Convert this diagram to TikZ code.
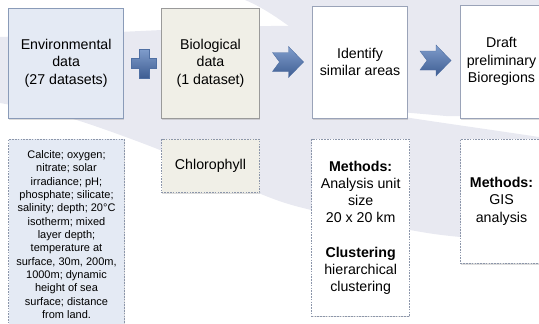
\documentclass[tikz,border=0pt]{standalone}
\usepackage{fontspec}
\setmainfont{Liberation Sans}
\usetikzlibrary{shadows}
\definecolor{bgband}{HTML}{E8E9F1}
\definecolor{envfill}{HTML}{E4EAF4}
\definecolor{envdraw}{HTML}{8A9BB8}
\definecolor{biofill}{HTML}{F0EFE7}
\definecolor{biodraw}{HTML}{9A9A9A}
\definecolor{whdraw}{HTML}{9AA3B8}
\definecolor{dashc}{HTML}{8C96AA}
\definecolor{arrtop}{HTML}{809DCC}
\definecolor{arrbot}{HTML}{3E5D92}
\definecolor{arrdraw}{HTML}{4F6FA3}
\begin{document}
\begin{tikzpicture}[x=1pt,y=-1pt,
  shd/.style={drop shadow={shadow xshift=0.6pt, shadow yshift=-1.4pt, opacity=0.28}},
  sbox/.style={rectangle, line width=0.7pt, align=center, inner sep=0pt,
    font=\fontsize{14.2}{17.5}\selectfont, shd},
  dbox/.style={rectangle, line width=0.6pt, draw=dashc, dash pattern=on 1.6pt off 1.2pt,
    align=center, inner sep=0pt, shd},
  arrfill/.style={top color=arrtop, bottom color=arrbot, draw=arrdraw, line width=0.4pt},
  notcharrow/.pic={\path[arrfill] (0,6) -- (16,6) -- (16,0) -- (31,15.5) -- (16,31)
      -- (16,25) -- (0,25) -- (7,15.5) -- cycle;}
]
\useasboundingbox (0,0) rectangle (539,324);
\clip (0,0) rectangle (539,324);
% background swooshes
\fill[bgband] (0,37) .. controls (120,33) and (250,24) .. (320,26) -- (360,110)
  .. controls (420,120) and (480,128) .. (539,137) -- (539,243)
  -- plot[smooth] coordinates {(539,243) (460,237) (410,230) (303,208) (251,190) (160,150) (70,118) (0,103)}
  -- cycle;
\fill[bgband] (245,0) .. controls (290,18) and (350,80) .. (400,112)
  -- (446,116) -- (539,116) -- (539,0) -- cycle;
% top row
\node[sbox, fill=envfill, draw=envdraw, minimum width=115.1pt, minimum height=110pt]
  (envbox) at (66.15,63.3) {Environmental\\data\\(27 datasets)};
\node[sbox, fill=biofill, draw=biodraw, minimum width=98pt, minimum height=110pt]
  (biobox) at (210.5,63.3) {Biological\\data\\(1 dataset)};
\node[sbox, fill=white, draw=whdraw, minimum width=94.5pt, minimum height=112.3pt]
  (idbox) at (360,62.15) {Identify\\similar areas};
\node[sbox, fill=white, draw=whdraw, minimum width=82pt, minimum height=113.3pt]
  (draftbox) at (501.5,61.65) {Draft\\preliminary\\Bioregions};
% bottom row
\node[dbox, fill=envfill, minimum width=115.8pt, minimum height=190.8pt,
  font=\fontsize{11}{13.33}\selectfont]
  (envdet) at (66.5,234.7) {Calcite; oxygen;\\nitrate; solar\\irradiance; pH;\\phosphate; silicate;\\salinity; depth; 20°C\\isotherm; mixed\\layer depth;\\temperature at\\surface, 30m, 200m,\\1000m; dynamic\\height of sea\\surface; distance\\from land.};
\node[dbox, fill=biofill, minimum width=98pt, minimum height=53.4pt,
  font=\fontsize{14.2}{17.5}\selectfont]
  (chlbox) at (210.5,166) {Chlorophyll};
\node[dbox, fill=white, minimum width=97.9pt, minimum height=176.7pt,
  font=\fontsize{14.2}{17.2}\selectfont]
  (meth1) at (360.65,227.65) {\textbf{Methods:}\\Analysis unit\\size\\20 x 20 km\\[17.2pt]\textbf{Clustering}\\hierarchical\\clustering};
\node[dbox, fill=white, minimum width=82pt, minimum height=124pt,
  font=\fontsize{14.2}{17.2}\selectfont]
  (meth2) at (501.5,201.3) {\textbf{Methods:}\\GIS\\analysis};
% plus and arrows
\path[arrfill] (139.5,49) -- (149.5,49) -- (149.5,58.5) -- (156.5,58.5) -- (156.5,68.5)
  -- (149.5,68.5) -- (149.5,78) -- (139.5,78) -- (139.5,68.5) -- (131.5,68.5)
  -- (131.5,58.5) -- (139.5,58.5) -- cycle;
\pic at (272.5,46.5) {notcharrow};
\pic at (420,45) {notcharrow};
\end{tikzpicture}
\end{document}
